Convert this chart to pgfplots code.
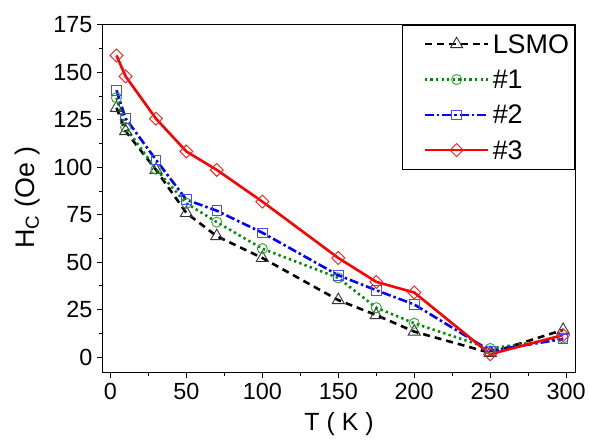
\documentclass[border=0pt]{standalone}
\usepackage{fontspec}
\setmainfont{Liberation Sans}
\usepackage{pgfplots}
\pgfplotsset{compat=1.18}
\definecolor{mygreen}{RGB}{0,140,0}
\begin{document}
\begin{tikzpicture}
\begin{axis}[
  scale only axis,
  width=474.7pt, height=349pt,
  xmin=-5, xmax=306, ymin=-8, ymax=175,
  xtick={0,50,...,300}, ytick={0,25,...,175},
  minor x tick num=1, minor y tick num=1,
  tick align=outside, xtick pos=left, ytick pos=left,
  major tick length=6pt, minor tick length=3.5pt,
  every tick/.style={black, line width=0.9pt},
  axis line style={line width=1pt},
  /pgf/number format/assume math mode=true,
  tick label style={font=\fontsize{23.5}{26}\selectfont},
  xticklabel style={yshift=-1pt},
  yticklabel style={xshift=-1pt},
  xlabel={T ( K )}, ylabel={H\textsubscript{C} (Oe )},
  xlabel style={font=\fontsize{25}{30}\selectfont, at={(axis description cs:0.5,-0.15)}, anchor=center},
  ylabel style={font=\fontsize{27}{30}\selectfont, at={(axis description cs:-0.16,0.503)}, anchor=center},
  legend style={at={(1,1)}, anchor=north east, draw=black, line width=0.8pt,
    font=\fontsize{27}{30}\selectfont, row sep=15.5pt, inner xsep=3pt, inner ysep=9pt,
    nodes={inner xsep=3pt, inner ysep=0pt, text height=19pt, text depth=1pt}},
  legend cell align=left,
  legend image code/.code={\path (-18pt,0pt); \draw[mark repeat=2,mark phase=2] plot coordinates {(0pt,0pt)(32pt,0pt)(64pt,0pt)};},
  every axis plot/.append style={line width=2.6pt},
  clip=false,
]
\addplot[black, dash pattern=on 7pt off 5pt, mark=triangle, mark size=7pt,
  mark options={solid, fill=white, line width=0.9pt, draw=black!80}]
  coordinates {(4,131.3)(10,119)(30,98.6)(50,75.9)(70,63.7)(100,52.2)(150,30)(175,22.1)(200,13.4)(250,2.2)(298,14.3)};
\addlegendentry{LSMO}
\addplot[mygreen, dash pattern=on 2.4pt off 3.2pt, mark=o, mark size=5.1pt,
  mark options={solid, fill=white, line width=0.9pt, draw=mygreen!80!white}]
  coordinates {(4,136.6)(10,121)(30,99)(50,81)(70,71.1)(100,57.1)(150,41.7)(175,26)(200,17.8)(250,4.5)(298,10)};
\addlegendentry{\#1}
\addplot[blue, dash pattern=on 9pt off 3pt on 2.5pt off 3pt, mark=square, mark size=4.8pt,
  mark options={solid, fill=white, line width=0.9pt, draw=blue!70!white}]
  coordinates {(4,140.6)(10,125.7)(30,103.9)(50,82.9)(70,77.1)(100,65.5)(150,43.1)(175,35.2)(200,27.7)(250,3.3)(298,9.5)};
\addlegendentry{\#2}
\addplot[red, solid, mark=square, mark size=4.6pt,
  mark options={solid, rotate=45, fill=white, line width=0.9pt, draw=red!90!white}]
  coordinates {(4,158.9)(10,147.9)(30,125.6)(50,108.3)(70,98.6)(100,81.9)(150,52.2)(175,39.6)(200,34)(250,1.5)(298,11.6)};
\addlegendentry{\#3}
\end{axis}
\path (current axis.south west) +(-103.3pt,-70pt);
\path (current axis.north east) +(11pt,25pt);
\end{tikzpicture}
\end{document}
